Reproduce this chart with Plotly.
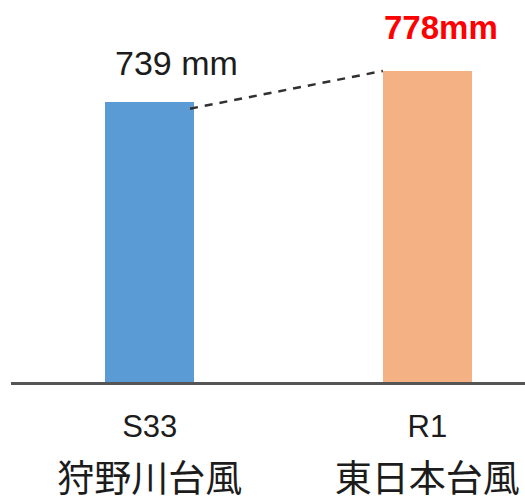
import plotly.graph_objects as go

# Rainfall totals for two typhoons
codes = ["S33", "R1"]
names = ["狩野川台風", "東日本台風"]
rainfall_mm = [739, 778]
bar_colors = ["#5B9BD5", "#F4B183"]
value_labels = ["739 mm", "778mm"]

x_pos = list(range(len(codes)))
bar_w = 0.32

fig = go.Figure()

fig.add_trace(go.Bar(
    x=x_pos,
    y=rainfall_mm,
    width=bar_w,
    marker=dict(color=bar_colors, line=dict(width=0)),
    showlegend=False,
    hoverinfo="skip",
))

# dashed connector between the two bar tops
fig.add_trace(go.Scatter(
    x=[x_pos[0] + bar_w / 2 - 0.015, x_pos[1] - bar_w / 2],
    y=[rainfall_mm[0] - 8, rainfall_mm[1]],
    mode="lines",
    line=dict(color="#303030", width=2.5, dash="8px,7px"),
    showlegend=False,
    hoverinfo="skip",
))

# value labels above the bars
fig.add_annotation(
    x=x_pos[0], y=rainfall_mm[0], xref="x", yref="y",
    text=value_labels[0], showarrow=False,
    xanchor="center", yanchor="middle", xshift=27, yshift=39,
    font=dict(family="Liberation Sans, Arial", size=34, color="#1c1c1c"),
)
fig.add_annotation(
    x=x_pos[1], y=rainfall_mm[1], xref="x", yref="y",
    text="<b>" + value_labels[1] + "</b>", showarrow=False,
    xanchor="center", yanchor="middle", xshift=14, yshift=43,
    font=dict(family="Liberation Sans, Arial", size=33, color="#FF0000"),
)

tick_text = [
    f"<span style='font-size:31px'>{c}</span><br><span style='font-size:37px'>{n}</span>"
    for c, n in zip(codes, names)
]

fig.update_layout(
    width=525, height=498,
    margin=dict(l=11, r=0, t=0, b=116),
    paper_bgcolor="white",
    plot_bgcolor="white",
    bargap=0,
    xaxis=dict(
        range=[-0.5, 1.352],
        tickvals=x_pos,
        ticktext=tick_text,
        tickfont=dict(family="Liberation Sans, Noto Sans CJK JP", size=42, color="#1c1c1c"),
        ticklabelstandoff=2,
        automargin=False,
        showline=True, linecolor="#555555", linewidth=3,
        showgrid=False, zeroline=False, ticks="",
        fixedrange=True,
    ),
    yaxis=dict(
        range=[390.5, 866.4],
        visible=False,
        showgrid=False,
        fixedrange=True,
        automargin=False,
    ),
)

fig.write_html("out.html")
